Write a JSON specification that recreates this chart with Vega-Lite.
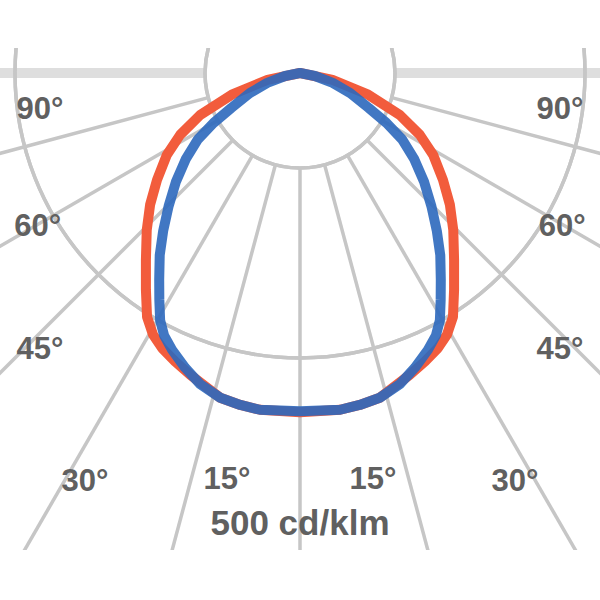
{
  "$schema": "https://vega.github.io/schema/vega-lite/v6.json",
  "width": 600,
  "height": 502,
  "autosize": {"type": "none"},
  "padding": {"top": 48, "left": 0, "right": 0, "bottom": 50},
  "background": "white",
  "config": {"view": {"stroke": null}},
  "datasets": {
    "rings": [{"r": 100}, {"r": 200}, {"r": 300}, {"r": 400}, {"r": 500}],
    "spokes": [{"a": -75}, {"a": -60}, {"a": -45}, {"a": -30}, {"a": -15}, {"a": 0}, {"a": 15}, {"a": 30}, {"a": 45}, {"a": 60}, {"a": 75}],
    "horizon": [{"a": -90}, {"a": 90}],
    "ldc": [
      {"c": "C0-C180", "g": -90, "i": 0},
      {"c": "C0-C180", "g": -78, "i": 35},
      {"c": "C0-C180", "g": -72.6, "i": 74},
      {"c": "C0-C180", "g": -67.2, "i": 114},
      {"c": "C0-C180", "g": -62.7, "i": 142},
      {"c": "C0-C180", "g": -58.3, "i": 165},
      {"c": "C0-C180", "g": -53.2, "i": 188},
      {"c": "C0-C180", "g": -48.7, "i": 210},
      {"c": "C0-C180", "g": -44.3, "i": 231},
      {"c": "C0-C180", "g": -39.5, "i": 255},
      {"c": "C0-C180", "g": -35.4, "i": 280},
      {"c": "C0-C180", "g": -32.1, "i": 303},
      {"c": "C0-C180", "g": -29.3, "i": 316},
      {"c": "C0-C180", "g": -26.6, "i": 324},
      {"c": "C0-C180", "g": -23.4, "i": 331},
      {"c": "C0-C180", "g": -20, "i": 338},
      {"c": "C0-C180", "g": -13.8, "i": 352},
      {"c": "C0-C180", "g": -10.2, "i": 355},
      {"c": "C0-C180", "g": -6.8, "i": 357},
      {"c": "C0-C180", "g": 0, "i": 357},
      {"c": "C0-C180", "g": 6.8, "i": 357},
      {"c": "C0-C180", "g": 10.2, "i": 355},
      {"c": "C0-C180", "g": 13.8, "i": 352},
      {"c": "C0-C180", "g": 20, "i": 338},
      {"c": "C0-C180", "g": 23.4, "i": 331},
      {"c": "C0-C180", "g": 26.6, "i": 324},
      {"c": "C0-C180", "g": 29.3, "i": 316},
      {"c": "C0-C180", "g": 32.1, "i": 303},
      {"c": "C0-C180", "g": 35.4, "i": 280},
      {"c": "C0-C180", "g": 39.5, "i": 255},
      {"c": "C0-C180", "g": 44.3, "i": 231},
      {"c": "C0-C180", "g": 48.7, "i": 210},
      {"c": "C0-C180", "g": 53.2, "i": 188},
      {"c": "C0-C180", "g": 58.3, "i": 165},
      {"c": "C0-C180", "g": 62.7, "i": 142},
      {"c": "C0-C180", "g": 67.2, "i": 114},
      {"c": "C0-C180", "g": 72.6, "i": 74},
      {"c": "C0-C180", "g": 78, "i": 35},
      {"c": "C0-C180", "g": 90, "i": 0},
      {"c": "C90-C270", "g": -90, "i": 0},
      {"c": "C90-C270", "g": -78.7, "i": 16},
      {"c": "C90-C270", "g": -73.1, "i": 36},
      {"c": "C90-C270", "g": -68.2, "i": 57},
      {"c": "C90-C270", "g": -63.1, "i": 81},
      {"c": "C90-C270", "g": -60, "i": 105},
      {"c": "C90-C270", "g": -57, "i": 128},
      {"c": "C90-C270", "g": -53.1, "i": 150},
      {"c": "C90-C270", "g": -48.7, "i": 174},
      {"c": "C90-C270", "g": -44.6, "i": 197},
      {"c": "C90-C270", "g": -40.9, "i": 220},
      {"c": "C90-C270", "g": -37.6, "i": 242},
      {"c": "C90-C270", "g": -34.3, "i": 263},
      {"c": "C90-C270", "g": -31.8, "i": 281},
      {"c": "C90-C270", "g": -29.5, "i": 299},
      {"c": "C90-C270", "g": -27.4, "i": 311},
      {"c": "C90-C270", "g": -24.8, "i": 321},
      {"c": "C90-C270", "g": -21.3, "i": 333},
      {"c": "C90-C270", "g": -17.8, "i": 344},
      {"c": "C90-C270", "g": -13.8, "i": 352},
      {"c": "C90-C270", "g": -10.2, "i": 355},
      {"c": "C90-C270", "g": -6.8, "i": 357},
      {"c": "C90-C270", "g": 0, "i": 356},
      {"c": "C90-C270", "g": 6.8, "i": 357},
      {"c": "C90-C270", "g": 10.2, "i": 355},
      {"c": "C90-C270", "g": 13.8, "i": 352},
      {"c": "C90-C270", "g": 17.8, "i": 344},
      {"c": "C90-C270", "g": 21.3, "i": 333},
      {"c": "C90-C270", "g": 24.8, "i": 321},
      {"c": "C90-C270", "g": 27.4, "i": 311},
      {"c": "C90-C270", "g": 29.5, "i": 299},
      {"c": "C90-C270", "g": 31.8, "i": 281},
      {"c": "C90-C270", "g": 34.3, "i": 263},
      {"c": "C90-C270", "g": 37.6, "i": 242},
      {"c": "C90-C270", "g": 40.9, "i": 220},
      {"c": "C90-C270", "g": 44.6, "i": 197},
      {"c": "C90-C270", "g": 48.7, "i": 174},
      {"c": "C90-C270", "g": 53.1, "i": 150},
      {"c": "C90-C270", "g": 57, "i": 128},
      {"c": "C90-C270", "g": 60, "i": 105},
      {"c": "C90-C270", "g": 63.1, "i": 81},
      {"c": "C90-C270", "g": 68.2, "i": 57},
      {"c": "C90-C270", "g": 73.1, "i": 36},
      {"c": "C90-C270", "g": 78.7, "i": 16},
      {"c": "C90-C270", "g": 90, "i": 0}
    ],
    "labels": [
      {"t": "90°", "x": -273.7, "y": -38.9, "k": "deg"},
      {"t": "60°", "x": -276, "y": -162, "k": "deg"},
      {"t": "45°", "x": -273.7, "y": -291.6, "k": "deg"},
      {"t": "30°", "x": -226.3, "y": -430.5, "k": "deg"},
      {"t": "15°", "x": -76.8, "y": -428.4, "k": "deg"},
      {"t": "15°", "x": 76.8, "y": -428.4, "k": "deg"},
      {"t": "30°", "x": 226.3, "y": -430.5, "k": "deg"},
      {"t": "45°", "x": 273.7, "y": -291.6, "k": "deg"},
      {"t": "60°", "x": 276, "y": -162, "k": "deg"},
      {"t": "90°", "x": 273.7, "y": -38.9, "k": "deg"},
      {"t": "500 cd/klm", "x": 0, "y": -474.7, "k": "unit"}
    ]
  },
  "layer": [
    {
      "data": {"name": "horizon"},
      "transform": [
        {"calculate": "100*sin(datum.a*PI/180)", "as": "x1"},
        {"calculate": "-100*cos(datum.a*PI/180)", "as": "y1"},
        {"calculate": "900*sin(datum.a*PI/180)", "as": "xe"},
        {"calculate": "-900*cos(datum.a*PI/180)", "as": "ye"}
      ],
      "mark": {"type": "rule", "color": "#dedede", "strokeWidth": 10, "clip": true},
      "encoding": {
        "x": {"field": "x1", "type": "quantitative", "scale": {"domain": [-315.79, 315.79], "nice": false, "zero": false}, "axis": null},
        "y": {"field": "y1", "type": "quantitative", "scale": {"domain": [-502.1, 26.32], "nice": false, "zero": false}, "axis": null},
        "x2": {"field": "xe"},
        "y2": {"field": "ye"}
      }
    },
    {
      "data": {"name": "rings"},
      "mark": {"type": "arc", "filled": false, "stroke": "#c6c6c6", "strokeWidth": 3.5, "theta": 0, "theta2": 6.2832, "clip": true},
      "encoding": {
        "x": {"datum": 0, "type": "quantitative"},
        "y": {"datum": 0, "type": "quantitative"},
        "radius": {"field": "r", "type": "quantitative", "scale": {"type": "linear", "domain": [0, 500], "range": [0, 475], "zero": true}, "legend": null}
      }
    },
    {
      "data": {"name": "spokes"},
      "transform": [
        {"calculate": "100*sin(datum.a*PI/180)", "as": "x1"},
        {"calculate": "-100*cos(datum.a*PI/180)", "as": "y1"},
        {"calculate": "900*sin(datum.a*PI/180)", "as": "xe"},
        {"calculate": "-900*cos(datum.a*PI/180)", "as": "ye"}
      ],
      "mark": {"type": "rule", "color": "#c6c6c6", "strokeWidth": 3.5, "clip": true},
      "encoding": {
        "x": {"field": "x1", "type": "quantitative"},
        "y": {"field": "y1", "type": "quantitative"},
        "x2": {"field": "xe"},
        "y2": {"field": "ye"}
      }
    },
    {
      "data": {"name": "ldc"},
      "transform": [
        {"filter": "datum.c === 'C0-C180'"},
        {"calculate": "datum.i*sin(datum.g*PI/180)", "as": "px"},
        {"calculate": "-datum.i*cos(datum.g*PI/180)", "as": "py"}
      ],
      "mark": {"type": "line", "color": "#f25c3c", "strokeWidth": 10, "strokeJoin": "round", "strokeCap": "round", "clip": true},
      "encoding": {
        "x": {"field": "px", "type": "quantitative"},
        "y": {"field": "py", "type": "quantitative"},
        "order": {"field": "g", "type": "quantitative"}
      }
    },
    {
      "data": {"name": "ldc"},
      "transform": [
        {"filter": "datum.c === 'C90-C270'"},
        {"calculate": "datum.i*sin(datum.g*PI/180)", "as": "px"},
        {"calculate": "-datum.i*cos(datum.g*PI/180)", "as": "py"}
      ],
      "mark": {"type": "line", "color": "#2c68bd", "strokeWidth": 10, "opacity": 0.9, "strokeJoin": "round", "strokeCap": "round", "clip": true},
      "encoding": {
        "x": {"field": "px", "type": "quantitative"},
        "y": {"field": "py", "type": "quantitative"},
        "order": {"field": "g", "type": "quantitative"}
      }
    },
    {
      "data": {"name": "labels"},
      "mark": {"type": "text", "align": "center", "baseline": "middle", "font": "Liberation Sans", "fontWeight": "bold", "color": "#606060"},
      "encoding": {
        "x": {"field": "x", "type": "quantitative"},
        "y": {"field": "y", "type": "quantitative"},
        "text": {"field": "t"},
        "size": {"field": "k", "type": "nominal", "scale": {"domain": ["deg", "unit"], "range": [31, 35]}, "legend": null}
      }
    }
  ]
}
